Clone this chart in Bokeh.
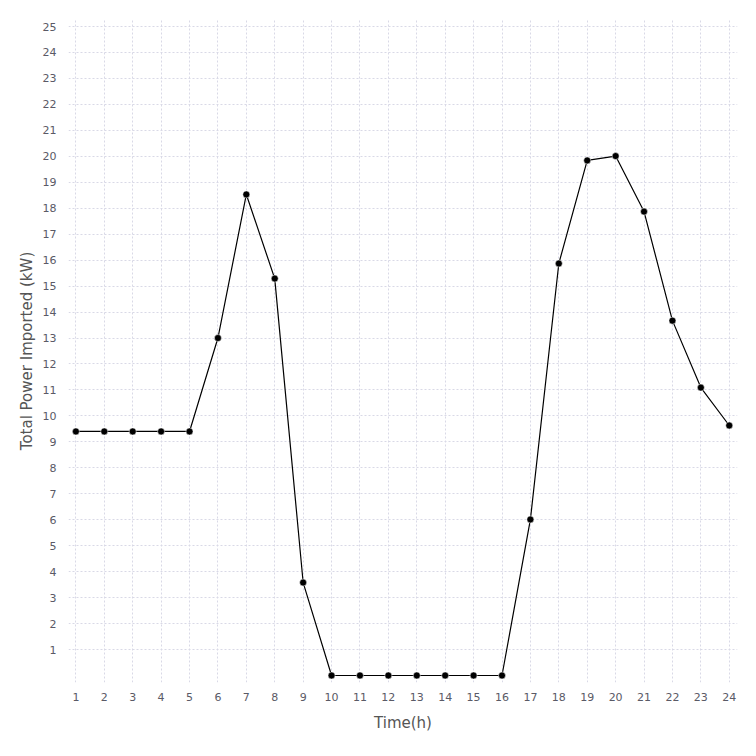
from bokeh.plotting import figure
from bokeh.models import FixedTicker, Range1d
from bokeh.embed import file_html
from bokeh.resources import INLINE

hours = list(range(1, 25))
power = [9.40, 9.40, 9.40, 9.40, 9.40, 13.0, 18.53, 15.29, 3.58,
         0, 0, 0, 0, 0, 0, 0,
         6.01, 15.87, 19.84, 20.01, 17.87, 13.67, 11.09, 9.63]
x_ticks = list(range(1, 25))
y_ticks = list(range(1, 26))

p = figure(width=756, height=756, output_backend="svg", toolbar_location=None,
           x_range=Range1d(0.74, 24.29), y_range=Range1d(-0.27, 25.27),
           min_border_left=68, min_border_right=19, min_border_top=19,
           min_border_bottom=74)
p.outline_line_color = None
p.background_fill_color = "white"

p.line(hours, power, line_color="black", line_width=1.2)
p.scatter(hours, power, size=7, fill_color="black", line_color="white", line_width=0.5)

for ax in (p.xaxis[0], p.yaxis[0]):
    ax.axis_line_color = None
    ax.major_tick_line_color = None
    ax.minor_tick_line_color = None
    ax.major_label_text_font = "DejaVu Sans"
    ax.major_label_text_font_size = "11px"
    ax.major_label_text_color = "#5a5a66"
    ax.axis_label_text_font = "DejaVu Sans"
    ax.axis_label_text_font_size = "15px"
    ax.axis_label_text_font_style = "normal"
    ax.axis_label_text_color = "#555555"

p.xaxis.ticker = FixedTicker(ticks=x_ticks)
p.yaxis.ticker = FixedTicker(ticks=y_ticks)
p.xaxis.axis_label = "Time(h)"
p.yaxis.axis_label = "Total Power Imported (kW)"
p.xaxis.major_label_standoff = 4
p.yaxis.major_label_standoff = 6
p.xaxis.axis_label_standoff = 10
p.yaxis.axis_label_standoff = 4

for g in (p.xgrid[0], p.ygrid[0]):
    g.grid_line_color = "#d9d9e6"
    g.grid_line_dash = "2 2"
    g.grid_line_width = 1
p.xgrid.ticker = FixedTicker(ticks=x_ticks)
p.ygrid.ticker = FixedTicker(ticks=y_ticks)

open("out.html", "w").write(file_html(p, INLINE))
